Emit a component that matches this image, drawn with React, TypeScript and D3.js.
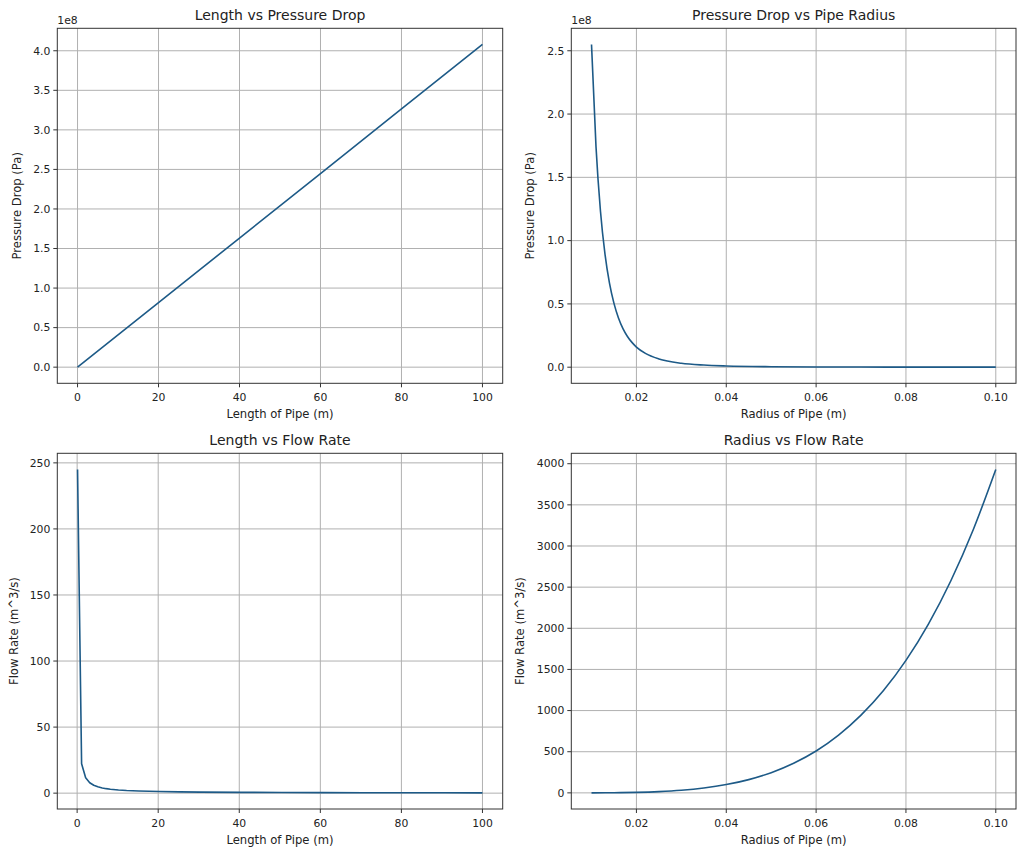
import { useEffect, useRef } from "react";
import * as d3 from "d3";

// Panel 1: length vs pressure drop
const lengthA = [0, 20, 40, 60, 80, 100];
const pressureA = [0, 0.816e8, 1.632e8, 2.448e8, 3.264e8, 4.08e8];

// Panel 2: radius vs pressure drop
const radiusB = [0.01, 0.011, 0.012, 0.013, 0.014, 0.015, 0.016, 0.017, 0.018, 0.019, 0.02, 0.022, 0.025, 0.03, 0.035, 0.04, 0.05, 0.06, 0.07, 0.08, 0.09, 0.1];
const pressureB = [2.55e8, 1.742e8, 1.23e8, 0.893e8, 0.664e8, 0.504e8, 0.389e8, 0.305e8, 0.243e8, 0.196e8, 0.159e8, 0.109e8, 0.065e8, 0.031e8, 0.017e8, 0.01e8, 0.004e8, 0.002e8, 0.0011e8, 0.0006e8, 0.0004e8, 0.00026e8];

// Panel 3: length vs flow rate
const lengthC = [0.1, 1.1, 2.1, 3.1, 4.1, 5.1, 6.2, 7.2, 8.2, 10.2, 12.2, 15.2, 20.3, 25.3, 30.4, 40.5, 50.5, 60.6, 70.7, 80.8, 90.9, 100];
const flowC = [245, 22.3, 11.7, 7.9, 5.98, 4.8, 3.95, 3.4, 2.99, 2.4, 2.0, 1.61, 1.21, 0.97, 0.81, 0.6, 0.49, 0.4, 0.35, 0.3, 0.27, 0.245];

// Panel 4: radius vs flow rate
const radiusD = [0.01, 0.015, 0.02, 0.025, 0.03, 0.035, 0.04, 0.045, 0.05, 0.055, 0.06, 0.065, 0.07, 0.075, 0.08, 0.085, 0.09, 0.095, 0.1];
const flowD = [0.39, 2.0, 6.3, 15.4, 31.8, 59, 100.6, 161, 245.6, 360, 509, 702, 944, 1243, 1610, 2051, 2578, 3201, 3930];

const lengthTicks = [0, 20, 40, 60, 80, 100];
const radiusTicks = [0.02, 0.04, 0.06, 0.08, 0.1];
const pressureTicksA = [0, 0.5e8, 1e8, 1.5e8, 2e8, 2.5e8, 3e8, 3.5e8, 4e8];
const pressureTicksB = [0, 0.5e8, 1e8, 1.5e8, 2e8, 2.5e8];
const flowTicksC = [0, 50, 100, 150, 200, 250];
const flowTicksD = [0, 500, 1000, 1500, 2000, 2500, 3000, 3500, 4000];

const LINE = "#1d5a87";
const FONT = "DejaVu Sans, sans-serif";

interface PanelSpec {
  box: [number, number, number, number]; // left, top, right, bottom
  xs: number[];
  ys: number[];
  xTicks: number[];
  yTicks: number[];
  xFmt: (v: number) => string;
  yFmt: (v: number) => string;
  title: string;
  xLabel: string;
  yLabel: string;
  yLabelX: number;
  offset?: string;
  smooth: boolean;
}

const pad = (ext: [number, number]): [number, number] => {
  const m = (ext[1] - ext[0]) * 0.05;
  return [ext[0] - m, ext[1] + m];
};

function drawPanel(root: d3.Selection<SVGSVGElement, unknown, null, undefined>, p: PanelSpec) {
  const [l, t, r, b] = p.box;
  const x = d3.scaleLinear().domain(pad(d3.extent(p.xs) as [number, number])).range([l, r]);
  const y = d3.scaleLinear().domain(pad(d3.extent(p.ys) as [number, number])).range([b, t]);
  const g = root.append("g");

  // grid
  g.selectAll(".gx").data(p.xTicks).enter().append("line")
    .attr("x1", d => x(d)).attr("x2", d => x(d)).attr("y1", t).attr("y2", b)
    .attr("stroke", "#b0b0b0").attr("stroke-width", 1);
  g.selectAll(".gy").data(p.yTicks).enter().append("line")
    .attr("y1", d => y(d)).attr("y2", d => y(d)).attr("x1", l).attr("x2", r)
    .attr("stroke", "#b0b0b0").attr("stroke-width", 1);

  // line
  const pts = p.xs.map((v, i) => [v, p.ys[i]] as [number, number]);
  const line = d3.line<[number, number]>().x(d => x(d[0])).y(d => y(d[1]))
    .curve(p.smooth ? d3.curveMonotoneX : d3.curveLinear);
  g.append("path").attr("d", line(pts)).attr("fill", "none")
    .attr("stroke", LINE).attr("stroke-width", 1.6).attr("stroke-linejoin", "round");

  // spines
  g.append("rect").attr("x", l).attr("y", t).attr("width", r - l).attr("height", b - t)
    .attr("fill", "none").attr("stroke", "#333").attr("stroke-width", 1);

  // ticks
  g.selectAll(".tx").data(p.xTicks).enter().append("line")
    .attr("x1", d => x(d)).attr("x2", d => x(d)).attr("y1", b).attr("y2", b + 4)
    .attr("stroke", "#333");
  g.selectAll(".lx").data(p.xTicks).enter().append("text")
    .attr("x", d => x(d)).attr("y", b + 18).attr("text-anchor", "middle")
    .attr("font-size", 10.8).attr("font-family", FONT).attr("fill", "#222")
    .text(d => p.xFmt(d));
  g.selectAll(".ty").data(p.yTicks).enter().append("line")
    .attr("y1", d => y(d)).attr("y2", d => y(d)).attr("x1", l - 4).attr("x2", l)
    .attr("stroke", "#333");
  g.selectAll(".ly").data(p.yTicks).enter().append("text")
    .attr("x", l - 7).attr("y", d => y(d)).attr("dy", "0.35em").attr("text-anchor", "end")
    .attr("font-size", 10.8).attr("font-family", FONT).attr("fill", "#222")
    .text(d => p.yFmt(d));

  // labels
  g.append("text").attr("x", (l + r) / 2).attr("y", t - 8).attr("text-anchor", "middle")
    .attr("font-size", 14).attr("font-family", FONT).attr("fill", "#222").text(p.title);
  g.append("text").attr("x", (l + r) / 2).attr("y", b + 35).attr("text-anchor", "middle")
    .attr("font-size", 11.6).attr("font-family", FONT).attr("fill", "#222").text(p.xLabel);
  g.append("text")
    .attr("transform", `translate(${p.yLabelX},${(t + b) / 2}) rotate(-90)`)
    .attr("text-anchor", "middle").attr("dy", "0.35em")
    .attr("font-size", 11.6).attr("font-family", FONT).attr("fill", "#222").text(p.yLabel);
  if (p.offset) {
    g.append("text").attr("x", l).attr("y", t - 4)
      .attr("font-size", 10.8).attr("font-family", FONT).attr("fill", "#222").text(p.offset);
  }
}

export default function App() {
  const svgRef = useRef<SVGSVGElement>(null);

  useEffect(() => {
    if (!svgRef.current) return;
    const svg = d3.select(svgRef.current);
    svg.selectAll("*").remove();

    const e8 = (v: number) => (v / 1e8).toFixed(1);
    const int = (v: number) => String(v);
    const two = (v: number) => v.toFixed(2);

    drawPanel(svg, {
      box: [57.3, 28.3, 502.7, 383.3], xs: lengthA, ys: pressureA,
      xTicks: lengthTicks, yTicks: pressureTicksA, xFmt: int, yFmt: e8,
      title: "Length vs Pressure Drop", xLabel: "Length of Pipe (m)", yLabel: "Pressure Drop (Pa)",
      yLabelX: 17, offset: "1e8", smooth: false,
    });
    drawPanel(svg, {
      box: [571.3, 28.3, 1016, 383.3], xs: radiusB, ys: pressureB,
      xTicks: radiusTicks, yTicks: pressureTicksB, xFmt: two, yFmt: e8,
      title: "Pressure Drop vs Pipe Radius", xLabel: "Radius of Pipe (m)", yLabel: "Pressure Drop (Pa)",
      yLabelX: 530, offset: "1e8", smooth: true,
    });
    drawPanel(svg, {
      box: [57.3, 453.3, 502.7, 809], xs: lengthC, ys: flowC,
      xTicks: lengthTicks, yTicks: flowTicksC, xFmt: int, yFmt: int,
      title: "Length vs Flow Rate", xLabel: "Length of Pipe (m)", yLabel: "Flow Rate (m^3/s)",
      yLabelX: 14, smooth: false,
    });
    drawPanel(svg, {
      box: [571.3, 453.3, 1016, 809], xs: radiusD, ys: flowD,
      xTicks: radiusTicks, yTicks: flowTicksD, xFmt: two, yFmt: int,
      title: "Radius vs Flow Rate", xLabel: "Radius of Pipe (m)", yLabel: "Flow Rate (m^3/s)",
      yLabelX: 520, smooth: true,
    });
  }, []);

  return (
    <svg ref={svgRef} width={1024} height={855}
      style={{ position: "absolute", left: 0, top: 0, background: "#fff" }} />
  );
}
